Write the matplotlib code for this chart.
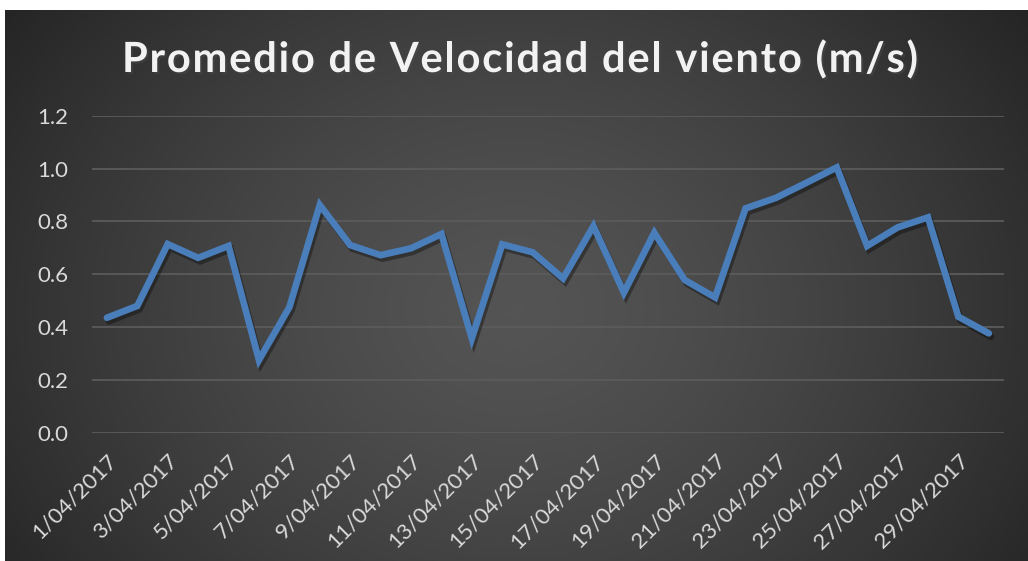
import numpy as np
import matplotlib.pyplot as plt
import matplotlib.patheffects as pe
from matplotlib.textpath import TextToPath
from matplotlib.font_manager import FontProperties

# Datos: promedio diario de velocidad del viento, abril 2017
dias = np.arange(1, 31)
fechas = [f"{d}/04/2017" for d in dias]
velocidad = [0.435, 0.48, 0.714, 0.662, 0.707, 0.275, 0.475, 0.862, 0.71, 0.672,
             0.698, 0.752, 0.357, 0.713, 0.683, 0.584, 0.782, 0.53, 0.757, 0.578,
             0.512, 0.849, 0.889, 0.946, 1.004, 0.707, 0.777, 0.815, 0.439, 0.376]
titulo = "Promedio de Velocidad del viento (m/s)"

W, H = 1028, 561
plt.rcParams["font.family"] = ["Lato", "DejaVu Sans"]
fig = plt.figure(figsize=(W / 100, H / 100), dpi=100, facecolor="white")

# Fondo oscuro con degradado radial
bg = fig.add_axes([5 / W, 0, 1 - 5 / W, 1 - 10 / H])
bg.set_axis_off()
yy, xx = np.mgrid[0:551, 0:1023]
r = np.sqrt(((xx - 510) / 640) ** 2 + ((yy - 300) / 520) ** 2)
shade = np.clip(0.33 - 0.19 * r ** 1.4, 0.14, 0.35)
bg.imshow(np.dstack([shade] * 3), aspect="auto", interpolation="bilinear")

ax = fig.add_axes([91.7 / W, 1 - 432.7 / H, (1004 - 91.7) / W, (432.7 - 115.7) / H])
ax.patch.set_alpha(0)
x = np.arange(len(velocidad))
ax.plot(x, velocidad, color="#4a7ebb", lw=4.8, solid_joinstyle="miter", solid_capstyle="round",
        path_effects=[pe.SimpleLineShadow(offset=(1.5, -2.5), shadow_color="black", alpha=0.35),
                      pe.Normal()])

ax.set_xlim(-0.5, len(velocidad) - 0.5)
ax.set_ylim(0, 1.2)
ax.set_yticks(np.arange(0, 1.21, 0.2))
ax.set_yticklabels([f"{v:.1f}" for v in np.arange(0, 1.21, 0.2)])
ax.set_xticks(x[::2])
ax.set_xticklabels(fechas[::2], rotation=45, ha="right", rotation_mode="anchor")
ax.grid(axis="y", color="#5b5b5b", lw=1.3)
ax.set_axisbelow(True)
for s in ax.spines.values():
    s.set_visible(False)
ax.tick_params(length=0, colors="#d9d9d9", labelsize=16)
ax.tick_params(axis="y", pad=17)
ax.tick_params(axis="x", pad=13)

# Titulo con espaciado entre letras (cada letra por separado)
fp = FontProperties(family="Lato", weight="bold", size=30)
t2p = TextToPath()
def ancho(s):
    return t2p.get_text_width_height_descent(s + "|", fp, ismath=False)[0] \
        - t2p.get_text_width_height_descent("|", fp, ismath=False)[0]
pos = [ancho(titulo[:i]) for i in range(len(titulo) + 1)]
total_pt = pos[-1]
total_px = 796
extra = (total_px - total_pt * 100 / 72) / (len(titulo) - 1)
x0 = 122
for i, ch in enumerate(titulo):
    if ch == " ":
        continue
    xp = x0 + pos[i] * 100 / 72 + extra * i
    fig.text(xp / W, 1 - 72 / H, ch, ha="left", va="baseline", color="#f2f2f2",
             fontproperties=fp,
             path_effects=[pe.withSimplePatchShadow(offset=(1.5, -1.5), alpha=0.5)])

fig.savefig("out.png", dpi=100, facecolor="white")
